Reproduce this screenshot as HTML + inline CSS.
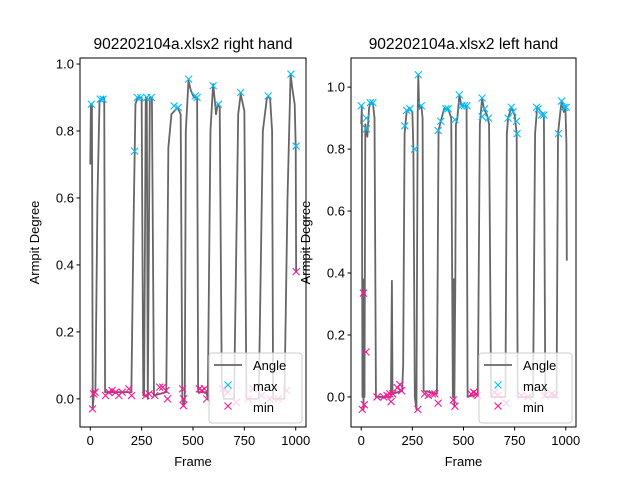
<!DOCTYPE html>
<html><head><meta charset="utf-8"><style>
body{margin:0;background:#fff;}
svg text{font-family:"Liberation Sans","DejaVu Sans",sans-serif;fill:#000;}
</style></head><body>
<svg id="fig" width="640" height="480" viewBox="0 0 640 480" xmlns="http://www.w3.org/2000/svg"></svg>
<script>
// ---- right hand (left panel) data ----
const rhLineFrames=[0,3,8,12,18,25,35,45,60,68,72,200,210,220,230,250,258,262,270,275,280,290,300,310,370,380,395,425,440,448,455,460,465,478,490,505,520,525,565,572,585,598,608,612,620,630,640,650,700,720,732,750,760,820,840,860,875,885,890,945,960,975,985,995,1000,1002];
const rhLineValues=[0.70,0.88,0.88,-0.03,0.02,0.02,0.6,0.89,0.9,0.9,0.02,0.02,0.5,0.88,0.9,0.9,0.01,0.01,0.9,0.9,0.0,0.9,0.9,0.01,0.02,0.75,0.85,0.87,0.85,0.0,-0.02,0.0,0.8,0.95,0.92,0.9,0.9,0.02,0.02,0.0,0.8,0.94,0.88,0.85,0.88,0.87,0.05,0.0,0.0,0.85,0.91,0.86,0.0,0.0,0.8,0.9,0.9,0.8,0.0,0.0,0.6,0.97,0.92,0.88,0.75,0.38];
const rhMaxFrames=[5,49,62,216,229,245,275,297,408,428,479,511,520,598,624,732,866,977,1002];
const rhMaxValues=[0.88,0.895,0.895,0.74,0.9,0.9,0.9,0.9,0.875,0.87,0.955,0.905,0.9,0.935,0.88,0.915,0.905,0.97,0.755];
const rhMinFrames=[11,16,23,74,90,106,123,139,155,188,201,270,286,314,338,353,368,376,449,453,454,531,544,556,567,645,670,711,768,792,833,874,915,956,1002];
const rhMinValues=[-0.03,0.015,0.02,0.01,0.02,0.025,0.02,0.01,0.02,0.03,0.01,0.01,0.015,0.01,0.035,0.035,0.025,0.0,0.03,-0.02,0.0,0.03,0.025,0.03,0.0,0.03,0.02,-0.01,0.0,0.03,0.01,0.0,0.0,0.025,0.38];
// ---- left hand (right panel) data ----
const lhLineFrames=[0,3,6,9,11,14,16,20,25,30,38,44,57,65,72,145,150,153,200,205,212,222,238,250,255,262,270,276,279,283,294,300,305,370,378,389,405,425,440,448,452,455,460,463,470,480,490,515,520,570,580,591,600,615,625,635,705,712,718,734,750,760,765,840,850,860,880,893,900,955,962,975,980,990,998,1003,1005];
const lhLineValues=[0.88,0.94,0.0,0.38,-0.04,0.36,0.0,0.88,0.86,0.84,0.93,0.95,0.95,0.9,0.0,0.0,0.375,0.01,0.02,0.1,0.85,0.92,0.93,0.92,0.8,0.0,-0.04,0.9,1.04,0.93,0.94,0.9,0.02,0.01,0.86,0.89,0.93,0.93,0.9,0.0,0.38,-0.03,0.37,0.88,0.9,0.975,0.94,0.94,0.0,0.01,0.88,0.965,0.93,0.91,0.88,0.0,0.0,0.85,0.9,0.935,0.91,0.85,0.0,0.0,0.85,0.935,0.92,0.91,0.0,0.0,0.85,0.93,0.955,0.92,0.94,0.82,0.44];
const lhMaxFrames=[0,25,25,44,57,213,222,238,261,279,294,376,389,414,425,458,479,491,504,517,591,591,603,622,718,734,742,759,762,857,865,882,893,964,980,992,1002];
const lhMaxValues=[0.94,0.9,0.865,0.95,0.95,0.875,0.925,0.93,0.8,1.04,0.94,0.86,0.89,0.93,0.93,0.895,0.975,0.94,0.94,0.94,0.965,0.905,0.93,0.9,0.9,0.935,0.92,0.89,0.85,0.935,0.93,0.91,0.91,0.85,0.955,0.935,0.935];
const lhMinFrames=[5,11,15,23,77,110,126,140,146,154,176,189,197,277,310,328,348,360,376,450,458,537,550,562,570,652,668,709,783,816,898,931,947];
const lhMinValues=[-0.04,0.335,-0.025,0.145,0.0,0.0,0.005,0.01,-0.015,0.01,0.03,0.04,0.02,-0.04,0.01,0.005,0.01,0.01,-0.02,-0.01,-0.03,0.01,0.015,0.01,0.005,0.015,0.005,-0.02,0.005,0.0,0.005,0.01,0.005];
const xTicks=[0,250,500,750,1000];
const yTicks=[0,0.2,0.4,0.6,0.8,1.0];
const yTickLabels=["0.0","0.2","0.4","0.6","0.8","1.0"];

const NS="http://www.w3.org/2000/svg";
const svg=document.getElementById('fig');
function mk(tag,attrs,parent){const e=document.createElementNS(NS,tag);for(const k in attrs)e.setAttribute(k,attrs[k]);(parent||svg).appendChild(e);return e;}

function panel(p){
  const g=mk('g',{});
  
  
  const xs=f=>p.x0+(f-(-50))/(1050-(-50))*(p.x1-p.x0);
  const ys=v=>p.y1-(v-p.ymin)/(p.ymax-p.ymin)*(p.y1-p.y0);
  const clipId='clip'+p.name;
  const cp=mk('clipPath',{id:clipId},g);mk('rect',{x:p.x0,y:p.y0,width:p.x1-p.x0,height:p.y1-p.y0},cp);
  const dg=mk('g',{'clip-path':'url(#'+clipId+')'},g);
  const pts=p.lf.map((f,i)=>xs(f).toFixed(2)+','+ys(p.lv[i]).toFixed(2)).join(' ');
  const line=mk('polyline',{points:pts,fill:'none',stroke:'#666','stroke-width':1.8,'stroke-linejoin':'round'},dg);
  
  
  function cross(x,y,c,parent){const s=3.5;const gg=mk('g',{stroke:c,'stroke-width':1.1},parent);mk('line',{x1:x-s,y1:y-s,x2:x+s,y2:y+s},gg);mk('line',{x1:x-s,y1:y+s,x2:x+s,y2:y-s},gg);return gg;}
  p.mxf.forEach((f,i)=>{const m=cross(xs(f),ys(p.mxv[i]),'#00bfff',dg);
    
    });
  p.mnf.forEach((f,i)=>{const m=cross(xs(f),ys(p.mnv[i]),'#ff1493',dg);
    
    });
  mk('rect',{x:p.x0,y:p.y0,width:p.x1-p.x0,height:p.y1-p.y0,fill:'none',stroke:'#000','stroke-width':1},g);
  xTicks.forEach(t=>{const x=xs(t);mk('line',{x1:x,x2:x,y1:p.y1,y2:p.y1+3.5,stroke:'#000'},g);
    const tx=mk('text',{x:x,y:p.y1+18,'text-anchor':'middle','font-size':'13px'},g);tx.textContent=t;
    
    });
  yTicks.forEach((t,i)=>{const y=ys(t);mk('line',{x1:p.x0-3.5,x2:p.x0,y1:y,y2:y,stroke:'#000'},g);
    const tx=mk('text',{x:p.x0-6,y:y+4.5,'text-anchor':'end','font-size':'13px'},g);tx.textContent=yTickLabels[i];
    
    });
  const cx=(p.x0+p.x1)/2;
  const tt=mk('text',{x:cx,y:49,'text-anchor':'middle','font-size':'15.5px'},g);tt.textContent=p.title;
  
  
  const xl=mk('text',{x:cx,y:466,'text-anchor':'middle','font-size':'13px'},g);xl.textContent='Frame';
  
  
  const ylx=p.x0-41,yly=(p.y0+p.y1)/2;
  const yl=mk('text',{x:ylx,y:yly,'text-anchor':'middle','font-size':'13px',transform:'rotate(-90 '+ylx+' '+yly+')'},g);yl.textContent='Armpit Degree';
  
  
  const lx=p.x1-97,ly=p.y1-74;
  const lg=mk('g',{},g);
  
  
  mk('rect',{x:lx,y:ly,width:93,height:70,rx:3,fill:'#fff','fill-opacity':0.8,stroke:'#ccc','stroke-width':1},lg);
  mk('line',{x1:lx+5,x2:lx+33,y1:ly+12,y2:ly+12,stroke:'#666','stroke-width':1.8},lg);
  cross(lx+19,ly+32,'#00bfff',lg);cross(lx+19,ly+53,'#ff1493',lg);
  [['Angle',17],['max',38],['min',59]].forEach(a=>{const t=mk('text',{x:lx+44,y:ly+a[1],'font-size':'13px'},lg);t.textContent=a[0];
    
    });
}
panel({name:'right-hand-panel',title:'902202104a.xlsx2 right hand',x0:80,x1:306,y0:58,y1:427,ymin:-0.084,ymax:1.018,lf:rhLineFrames,lv:rhLineValues,mxf:rhMaxFrames,mxv:rhMaxValues,mnf:rhMinFrames,mnv:rhMinValues});
panel({name:'left-hand-panel',title:'902202104a.xlsx2 left hand',x0:351,x1:576,y0:58,y1:427,ymin:-0.097,ymax:1.094,lf:lhLineFrames,lv:lhLineValues,mxf:lhMaxFrames,mxv:lhMaxValues,mnf:lhMinFrames,mnv:lhMinValues});
</script>
</body></html>
